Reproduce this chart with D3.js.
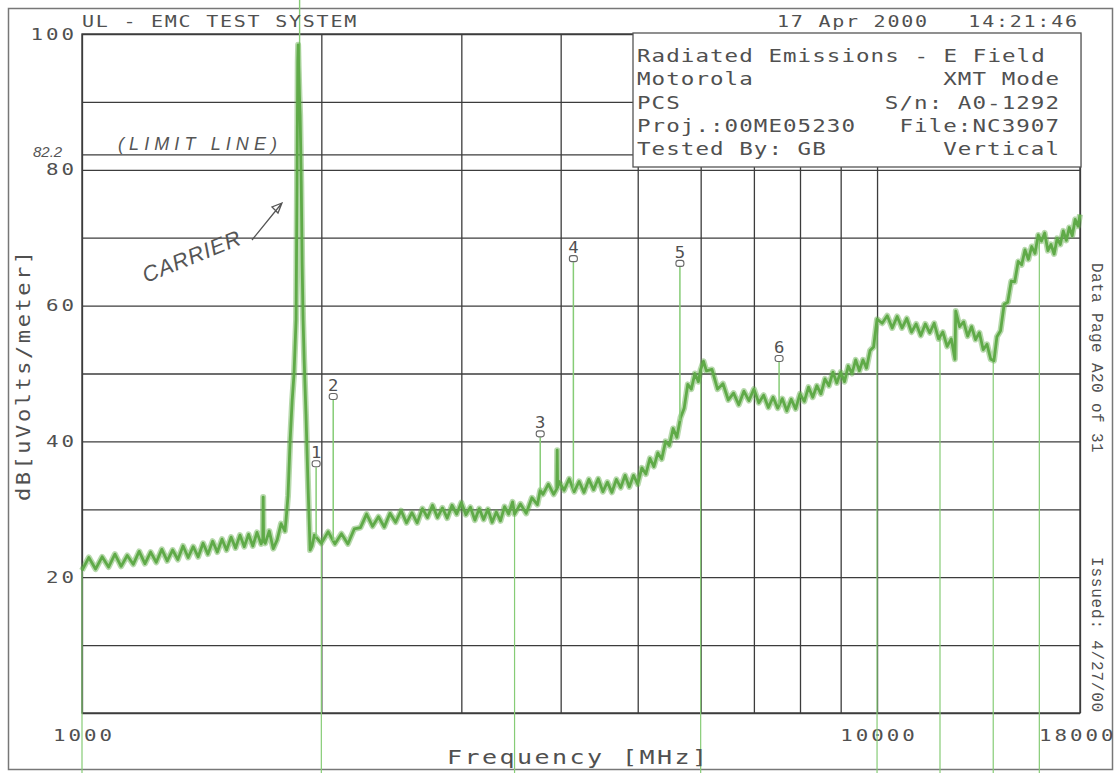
<!DOCTYPE html>
<html><head><meta charset="utf-8">
<script src="https://cdn.jsdelivr.net/npm/d3@7"></script>
<style>
html,body{margin:0;padding:0;background:#fff;}
svg{display:block;}
</style></head><body>
<svg id="chart" width="1116" height="773"></svg>
<script>
// ---------------- data ----------------
// measured trace: [frequency MHz, level dB(uV/m)]
const trace = [
 [1000,21.0],[1020,22.9],[1040,21.2],[1060,23.0],[1080,21.5],[1100,23.4],[1120,21.6],[1140,23.2],[1160,21.9],[1180,23.8],
 [1200,22.0],[1220,23.7],[1240,22.2],[1260,24.1],[1280,22.4],[1300,24.0],[1320,22.6],[1340,24.6],[1360,22.9],[1380,24.5],
 [1400,23.0],[1420,25.0],[1440,23.4],[1460,25.3],[1480,23.7],[1500,25.6],[1520,24.0],[1540,25.9],[1560,24.3],[1580,26.2],
 [1600,24.5],[1620,26.3],[1640,24.6],[1660,26.6],[1680,24.9],[1688,25.6],[1690,31.8],[1692,25.4],[1700,25.0],[1720,26.8],
 [1740,24.2],[1760,25.5],[1780,27.9],[1800,26.8],
 [1806,28.5],[1816,32],[1827,40],[1838,46],[1848,50],[1859,58],[1864,78],[1868,96],[1870,98.4],[1873,95],
 [1877,91],[1881,88],[1887,78],[1892,66],[1897,58],[1903,52],[1913,44],[1925,33],[1936,24.0],[1947,24.6],
 [1960,26.2],[2000,25.0],[2040,26.7],[2080,24.9],[2120,26.4],[2160,24.9],[2200,27.1],[2240,27.3],[2280,29.3],[2320,27.5],
 [2360,28.9],[2400,27.4],[2440,29.4],[2480,28.1],[2520,29.8],[2560,28.0],[2600,29.5],[2640,28.0],[2680,30.1],[2720,28.8],
 [2760,30.6],[2800,28.8],[2840,30.2],[2880,28.7],[2920,30.6],[2960,29.3],[3000,31.0],[3040,29.2],[3080,30.3],[3120,28.4],
 [3160,30.1],[3200,28.5],[3240,30.0],[3280,28.1],[3320,29.6],[3360,28.3],[3400,30.4],[3440,29.3],[3480,31.1],[3500,29.3],
 [3560,30.8],[3620,29.4],[3680,31.7],[3740,30.7],[3770,32.8],[3800,32.2],[3860,33.7],[3920,32.2],[3955,33.0],[3960,38.7],
 [3965,33.2],[3980,34.1],[4040,32.8],[4100,34.5],[4160,32.6],[4220,34.1],[4280,32.5],[4340,34.4],[4400,32.9],[4460,34.5],
 [4520,32.6],[4580,34.0],[4640,32.5],[4700,34.4],[4760,33.2],[4820,35.0],[4880,33.3],[4940,35.0],[5000,33.7],[5060,36.1],
 [5120,35.2],[5180,37.5],[5240,36.3],[5300,38.3],[5360,37.4],[5420,40.0],[5480,39.4],[5540,41.9],[5600,40.6],[5660,43.5],
 [5720,44.9],[5780,48.4],[5840,47.7],[5900,50.0],[5960,48.8],[6000,50.6],
 [6050,51.8],[6100,50.4],[6200,50.6],[6300,47.7],[6400,48.5],[6500,46.1],[6600,47.1],[6700,45.4],[6800,47.4],[6900,46.0],
 [7000,47.7],[7100,45.7],[7200,46.8],[7300,45.0],[7400,46.5],[7500,44.9],[7600,46.3],[7700,44.5],[7800,46.2],[7900,44.8],
 [8000,47.0],[8100,45.9],[8200,48.0],[8300,46.5],[8400,48.2],[8500,47.0],[8600,49.2],[8700,48.2],[8800,50.2],[8900,48.6],
 [9000,50.2],[9100,48.8],[9200,51.1],[9300,50.0],[9400,52.0],[9500,50.4],[9600,52.0],[9700,50.8],[9800,53.4],[9900,53.9],
 [10000,58.0],[10150,57.4],[10300,58.5],[10450,56.7],[10600,58.4],[10750,56.7],[10900,58.1],[11050,56.1],[11200,57.3],[11350,55.6],
 [11500,57.3],[11650,56.0],[11800,57.4],[11950,55.1],[12100,56.1],[12250,54.0],[12400,55.1],[12530,52.1],[12560,59.2],[12700,56.9],
 [12850,57.6],[13000,55.5],[13150,56.9],[13300,55.0],[13450,56.0],[13600,53.5],[13750,54.3],[13900,52.1],[14030,51.9],[14150,55.4],
 [14300,56.3],[14450,60.2],[14600,60.5],[14750,63.6],[14900,63.5],[15050,66.5],[15200,66.0],[15350,68.2],[15500,66.8],[15650,68.7],
 [15800,67.7],[15950,70.4],[16100,69.5],[16250,70.7],[16400,68.1],[16550,69.0],[16700,67.6],[16850,69.9],[17000,69.0],[17150,71.0],
 [17300,69.6],[17450,71.5],[17600,70.3],[17750,72.7],[17900,71.7],[18000,73.4]
];
const markerLabels = ["1","2","3","4","5","6"];
const markerFreqs  = [1970, 2070, 3770, 4150, 5650, 7530];
const markerLevels = [36.2, 46.1, 40.6, 66.4, 65.7, 51.7];
const yGridValues  = [0,10,20,30,40,50,60,70,80,90,100];
const yLabelValues = [20,40,60,80,100];
const xGridValues  = [1000,2000,3000,4000,5000,6000,7000,8000,9000,10000,18000];
const xLabelValues = [1000,10000,18000];
const limitLevel = 82.2;
const penDownFreqs = [1000,2000,3500,6000,10000,12000,14000,16000];
const carrierFreq = 1878;
const headerLeft = "UL - EMC TEST SYSTEM";
const headerDate = "17 Apr 2000";
const headerTime = "14:21:46";
const infoLeft  = ["Radiated Emissions - E Field","Motorola","PCS","Proj.:00ME05230","Tested By: GB"];
const infoRight = ["","XMT Mode","S/n: A0-1292","File:NC3907","Vertical"];
const sideTexts = ["Data Page A20 of 31","Issued: 4/27/00"];
const xTitle = "Frequency [MHz]";
const yTitle = "dB[uVolts/meter]";

// ---------------- drawing ----------------
const svg = d3.select("#chart");
const TEXT = "#505050", GRID = "#3c3c3c", GREEN = "#5faa48", GREEN_L = "#86cc76";
const MONO = "DejaVu Sans Mono";
const L = 82, R = 1080, T = 34, B = 713;
const x = d3.scaleLog().domain([1000,18000]).range([L,R]);
const y = d3.scaleLinear().domain([0,100]).range([B,T]);

// plotter-style text: fixed pitch, horizontally stretched glyphs
function ptext(g, str, px, py, size, pitch, anchor, opts){
  opts = opts || {};
  const fam = opts.family || MONO, s = opts.stretch || 1, rot = opts.rotate || 0;
  const adv = 0.602*size*s;
  const len = str.length*pitch-(pitch-adv);
  return g.append("text").attr("x",0).attr("y",0)
    .attr("transform",`translate(${px},${py}) rotate(${rot}) scale(${s},1)`)
    .attr("font-family", fam).attr("font-size",size).attr("fill",TEXT)
    .attr("text-anchor",anchor||"start")
    .attr("textLength", len/s).attr("lengthAdjust","spacing")
    .text(str);
}

// outer frame
svg.append("rect").attr("x",8.5).attr("y",8.5).attr("width",1104).attr("height",761)
  .attr("fill","none").attr("stroke","#777").attr("stroke-width",1.5);

// grid via axes
const TS = 1.3;
const gy = svg.append("g").attr("transform",`translate(${L},0)`)
  .call(d3.axisLeft(y).tickValues(yGridValues).tickSize(-(R-L)).tickPadding(8)
    .tickFormat(d => yLabelValues.includes(d) ? String(d) : ""));
const gx = svg.append("g").attr("transform",`translate(0,${B})`)
  .call(d3.axisBottom(x).tickValues(xGridValues).tickSize(-(B-T)).tickPadding(17)
    .tickFormat(d => xLabelValues.includes(d) ? String(d) : ""));
[gy,gx].forEach(g=>{
  g.select(".domain").remove();
  g.selectAll(".tick line").attr("stroke",GRID).attr("stroke-width",1.3);
  g.selectAll(".tick text").attr("font-family",MONO).attr("font-size",16).attr("fill",TEXT)
    .each(function(){
      const s=this.textContent; if(!s) return;
      const t=d3.select(this);
      const len = s.length*15.5-(15.5-9.63*TS);
      t.attr("textLength", len/TS).attr("lengthAdjust","spacing")
       .attr("x", (+t.attr("x")||0)/TS).attr("transform",`scale(${TS},1)`);
    });
});
// keep the last frequency label inside the page
gx.selectAll(".tick").filter(d => d === 18000).select("text")
  .attr("text-anchor","end").attr("x", (1113 - x(18000))/TS);
// plot border
svg.append("rect").attr("x",L).attr("y",T).attr("width",R-L).attr("height",B-T)
  .attr("fill","none").attr("stroke",GRID).attr("stroke-width",1.4);
// limit line
svg.append("line").attr("x1",L).attr("x2",R).attr("y1",y(limitLevel)).attr("y2",y(limitLevel))
  .attr("stroke",GRID).attr("stroke-width",1.3);

// trace helpers
const bis = d3.bisector(d=>d[0]).left;
function levelAt(f){
  const i = Math.max(1, Math.min(trace.length-1, bis(trace,f)));
  const a = trace[i-1], b = trace[i];
  const t = Math.max(0, Math.min(1, (Math.log(f)-Math.log(a[0]))/(Math.log(b[0])-Math.log(a[0]))));
  return a[1] + (b[1]-a[1])*t;
}

// pen travel lines (segment starts)
penDownFreqs.forEach(f=>{
  svg.append("line").attr("x1",x(f)).attr("x2",x(f)).attr("y1",y(levelAt(f))).attr("y2",773)
    .attr("stroke",GREEN_L).attr("stroke-width",1.2);
});
svg.append("line").attr("x1",x(carrierFreq)).attr("x2",x(carrierFreq)).attr("y1",y(levelAt(carrierFreq))).attr("y2",0)
  .attr("stroke",GREEN_L).attr("stroke-width",1.4);

// trace (soft underlay gives the dense noise-band look, then the line)
const lineGen = d3.line().x(d=>x(d[0])).y(d=>y(d[1]));
svg.append("path").datum(trace).attr("d", lineGen)
  .attr("fill","none").attr("stroke",GREEN).attr("stroke-opacity",0.45).attr("stroke-width",6).attr("stroke-linejoin","round");
svg.append("path").datum(trace).attr("d", lineGen)
  .attr("fill","none").attr("stroke",GREEN).attr("stroke-width",2.8).attr("stroke-linejoin","round");

// markers
markerFreqs.forEach((f,i)=>{
  const mx = x(f), my = y(markerLevels[i]);
  svg.append("line").attr("x1",mx).attr("x2",mx).attr("y1",y(levelAt(f))).attr("y2",my)
    .attr("stroke",GREEN_L).attr("stroke-width",1.5);
  svg.append("rect").attr("x",mx-4).attr("y",my-6.5).attr("width",8).attr("height",6).attr("rx",2.5)
    .attr("fill","#fff").attr("stroke","#666").attr("stroke-width",1.1);
  ptext(svg, markerLabels[i], mx, my-9, 15, 10, "middle", {stretch:1.15});
});

// info box
svg.append("rect").attr("x",633).attr("y",33).attr("width",448).attr("height",134)
  .attr("fill","#fff").attr("stroke","#555").attr("stroke-width",1.3);
infoLeft.forEach((s,i)=>{ if(s) ptext(svg, s, 637, 62+i*23.3, 18, 14.6, "start", {stretch:1.25}); });
infoRight.forEach((s,i)=>{ if(s) ptext(svg, s, 1059, 62+i*23.3, 18, 14.6, "end", {stretch:1.25}); });

// header
ptext(svg, headerLeft, 82, 27, 16, 13.8, "start", {stretch:1.25});
ptext(svg, headerDate, 777, 27, 16, 13.8, "start", {stretch:1.25});
ptext(svg, headerTime, 1077, 27, 16, 13.8, "end", {stretch:1.25});

// axis titles
ptext(svg, xTitle, 577, 764, 20, 17.5, "middle", {stretch:1.25});
ptext(svg, yTitle, 30, 376, 20, 15.8, "middle", {stretch:1.1, rotate:-90});

// side texts
ptext(svg, sideTexts[0], 1092, 263, 16, 10, "start", {family:"Liberation Mono", rotate:90});
ptext(svg, sideTexts[1], 1092, 557, 16, 10.4, "start", {family:"Liberation Mono", rotate:90});

// handwritten annotations
const HAND = "Liberation Sans";
svg.append("text").attr("x",118).attr("y",150).attr("font-family",HAND).attr("font-style","italic")
  .attr("font-size",18).attr("fill","#555").attr("textLength",159).attr("lengthAdjust","spacing").text("(LIMIT LINE)");
svg.append("text").attr("x",33).attr("y",157).attr("font-family",HAND).attr("font-style","italic")
  .attr("font-size",15).attr("fill","#555").text("82.2");
svg.append("text").attr("transform","translate(146,283) rotate(-22)").attr("font-family",HAND).attr("font-style","italic")
  .attr("font-size",22).attr("fill","#555").attr("textLength",104).attr("lengthAdjust","spacing").text("CARRIER");
svg.append("path").attr("d","M252,240 L282,203 M282,203 L272,207 L278,213 Z")
  .attr("fill","none").attr("stroke","#555").attr("stroke-width",1.3);
</script>
</body></html>
